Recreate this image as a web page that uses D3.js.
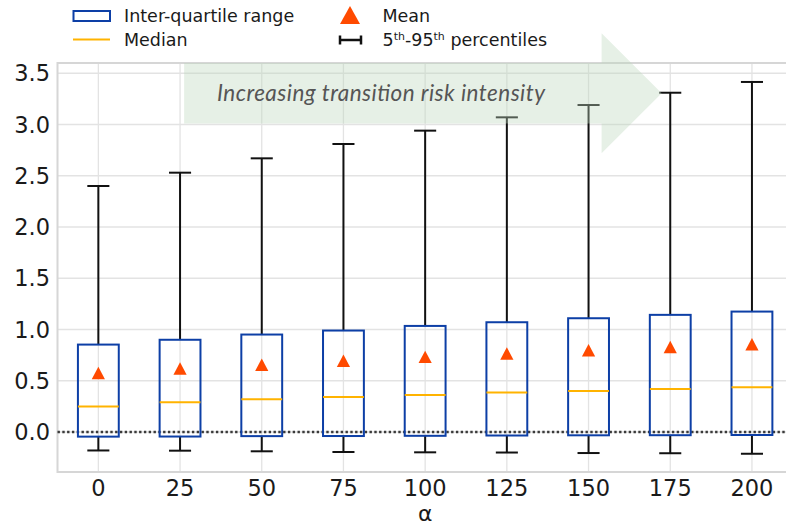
<!DOCTYPE html>
<html>
<head>
<meta charset="utf-8">
<script src="https://cdn.jsdelivr.net/npm/d3@7"></script>
<style>
  html, body { margin: 0; padding: 0; background: #fff; }
  svg { display: block; font-family: "DejaVu Sans", sans-serif; }
</style>
</head>
<body>
<svg id="chart" width="786" height="527"></svg>
<script>
"use strict";

// /////// DATA
const alphas = ["0", "25", "50", "75", "100", "125", "150", "175", "200"];
const p5 = [-0.18, -0.182, -0.188, -0.195, -0.198, -0.2, -0.205, -0.207, -0.212];
const q1 = [-0.045, -0.044, -0.04, -0.039, -0.037, -0.034, -0.032, -0.031, -0.029];
const medians = [0.25, 0.29, 0.319, 0.342, 0.361, 0.385, 0.4, 0.42, 0.437];
const q3 = [0.853, 0.9, 0.951, 0.99, 1.035, 1.071, 1.11, 1.143, 1.175];
const p95 = [2.4, 2.53, 2.67, 2.81, 2.94, 3.07, 3.19, 3.31, 3.415];
const means = [0.576, 0.62, 0.656, 0.695, 0.733, 0.766, 0.798, 0.83, 0.856];
const yTicks = [0, 0.5, 1, 1.5, 2, 2.5, 3, 3.5];

const rows = alphas.map((a, i) => ({
  a, i, p5: p5[i], q1: q1[i], med: medians[i], q3: q3[i], p95: p95[i], mean: means[i],
}));

// /////// LAYOUT
const svg = d3.select("#chart");
const plotLeft = 57.5, plotTop = 63, plotBottom = 472;
const step = 81.7;

const x = d3.scaleLinear().domain([-0.5, 8.5]).range([plotLeft, plotLeft + 9 * step]);
const y = d3.scaleLinear().domain([-0.39, 3.6]).range([plotBottom, plotTop]);

const blue = "#0d3fa6";
const orange = "#ffb300";
const red = "#ff4a00";

// Grid
const grid = svg.append("g");
grid.selectAll(".gy").data(yTicks).join("line")
  .attr("x1", plotLeft).attr("x2", 786)
  .attr("y1", (d) => y(d)).attr("y2", (d) => y(d))
  .attr("stroke", "#e3e3e3").attr("stroke-width", 1.3);
grid.selectAll(".gx").data(rows).join("line")
  .attr("x1", (d) => x(d.i)).attr("x2", (d) => x(d.i))
  .attr("y1", plotTop).attr("y2", plotBottom)
  .attr("stroke", "#e3e3e3").attr("stroke-width", 1.3);

// Spines
svg.append("path")
  .attr("d", `M786,${plotTop}H${plotLeft}V${plotBottom}H786`)
  .attr("fill", "none").attr("stroke", "#d6d6d6").attr("stroke-width", 2);

// Zero reference line (dotted)
svg.append("line")
  .attr("x1", plotLeft).attr("x2", 786)
  .attr("y1", y(0)).attr("y2", y(0))
  .attr("stroke", "#3a3a3a").attr("stroke-width", 2.4)
  .attr("stroke-dasharray", "2.4,2.4");

// Boxes
const halfBox = step * 0.25;
const halfCap = step * 0.135;
const box = svg.append("g").selectAll("g").data(rows).join("g");

box.append("line")
  .attr("x1", (d) => x(d.i)).attr("x2", (d) => x(d.i))
  .attr("y1", (d) => y(d.q3)).attr("y2", (d) => y(d.p95))
  .attr("stroke", "#111").attr("stroke-width", 2);
box.append("line")
  .attr("x1", (d) => x(d.i)).attr("x2", (d) => x(d.i))
  .attr("y1", (d) => y(d.q1)).attr("y2", (d) => y(d.p5))
  .attr("stroke", "#111").attr("stroke-width", 2);
["p5", "p95"].forEach((k) => {
  box.append("line")
    .attr("x1", (d) => x(d.i) - halfCap).attr("x2", (d) => x(d.i) + halfCap)
    .attr("y1", (d) => y(d[k])).attr("y2", (d) => y(d[k]))
    .attr("stroke", "#111").attr("stroke-width", 2);
});

box.append("rect")
  .attr("x", (d) => x(d.i) - halfBox)
  .attr("width", halfBox * 2)
  .attr("y", (d) => y(d.q3))
  .attr("height", (d) => y(d.q1) - y(d.q3))
  .attr("fill", "none").attr("stroke", blue).attr("stroke-width", 2);

box.append("line")
  .attr("x1", (d) => x(d.i) - halfBox).attr("x2", (d) => x(d.i) + halfBox)
  .attr("y1", (d) => y(d.med)).attr("y2", (d) => y(d.med))
  .attr("stroke", orange).attr("stroke-width", 2);

const tri = (cx, cy) => `M${cx},${cy - 6.2}L${cx + 6.6},${cy + 6.2}L${cx - 6.6},${cy + 6.2}Z`;
box.append("path")
  .attr("d", (d) => tri(x(d.i), y(d.mean)))
  .attr("fill", red);

// Arrow annotation (drawn over the boxes, semi-transparent)
const arrowPts = [
  [1.05, 3.6], [6.16, 3.6], [6.16, 3.89], [6.895, 3.305],
  [6.16, 2.72], [6.16, 3.01], [1.05, 3.01],
];
svg.append("path")
  .attr("d", d3.line().x((p) => x(p[0])).y((p) => y(p[1]))(arrowPts) + "Z")
  .attr("fill", "rgb(190,215,190)").attr("fill-opacity", 0.38);

svg.append("text")
  .attr("x", 381).attr("y", y(3.305) + 7.5)
  .attr("text-anchor", "middle")
  .attr("font-family", "Lato, 'Open Sans', sans-serif")
  .attr("font-style", "italic")
  .attr("font-size", 22.5)
  .attr("textLength", 328)
  .attr("fill", "#555")
  .text("Increasing transition risk intensity");

// Axes labels
svg.append("g").selectAll("text").data(yTicks).join("text")
  .attr("x", 50).attr("y", (d) => y(d) + 8)
  .attr("text-anchor", "end")
  .attr("font-size", 22.5).attr("fill", "#1a1a1a")
  .text((d) => d.toFixed(1));

svg.append("g").selectAll("text").data(rows).join("text")
  .attr("x", (d) => x(d.i)).attr("y", 496)
  .attr("text-anchor", "middle")
  .attr("font-size", 22.5).attr("fill", "#1a1a1a")
  .text((d) => d.a);

svg.append("text")
  .attr("x", x(4)).attr("y", 521)
  .attr("text-anchor", "middle")
  .attr("font-size", 22).attr("fill", "#1a1a1a")
  .text("α");

// Legend
const lg = svg.append("g").attr("font-size", 17.5).attr("fill", "#1a1a1a");
lg.append("rect").attr("x", 73.5).attr("y", 11).attr("width", 36.5).attr("height", 10)
  .attr("fill", "#fff").attr("stroke", blue).attr("stroke-width", 2);
lg.append("text").attr("x", 124).attr("y", 22).text("Inter-quartile range");
lg.append("line").attr("x1", 73).attr("x2", 110).attr("y1", 39.5).attr("y2", 39.5)
  .attr("stroke", orange).attr("stroke-width", 2);
lg.append("text").attr("x", 124).attr("y", 45.5).text("Median");

lg.append("path").attr("d", "M350,6L360,24L340,24Z").attr("fill", red);
lg.append("text").attr("x", 382.5).attr("y", 22).text("Mean");
lg.append("path").attr("d", "M340,40H361M340,35.5V44.5M361,35.5V44.5")
  .attr("stroke", "#111").attr("stroke-width", 2.5).attr("fill", "none");
const pct = lg.append("text").attr("x", 382.5).attr("y", 45.5);
pct.append("tspan").text("5");
pct.append("tspan").attr("font-size", 11).attr("dy", -6).text("th");
pct.append("tspan").attr("dy", 6).text("-95");
pct.append("tspan").attr("font-size", 11).attr("dy", -6).text("th");
pct.append("tspan").attr("dy", 6).text(" percentiles");
</script>
</body>
</html>
